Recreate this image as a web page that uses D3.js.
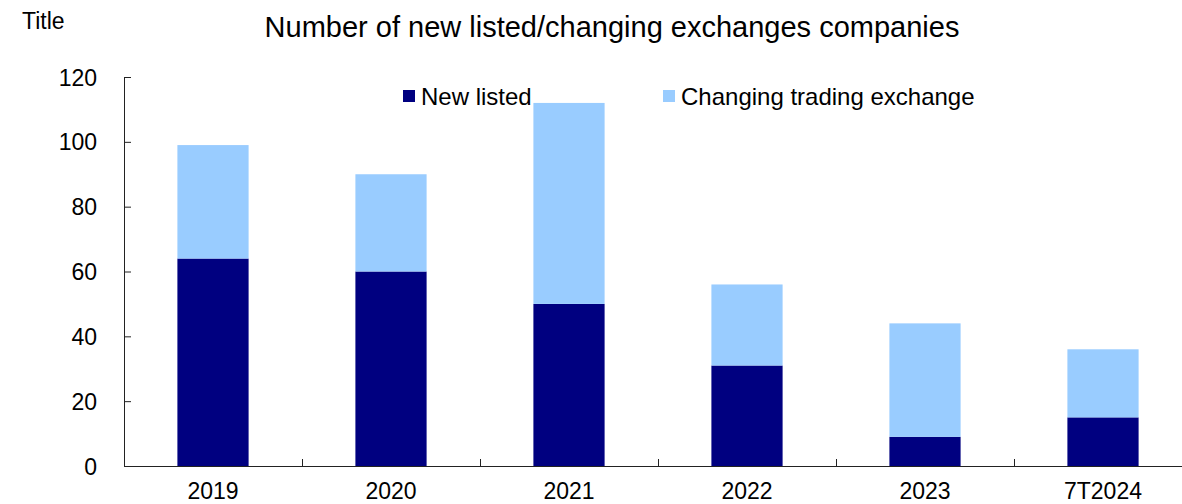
<!DOCTYPE html>
<html>
<head>
<meta charset="utf-8">
<script src="https://cdn.jsdelivr.net/npm/d3@7"></script>
<style>
  html, body { margin: 0; padding: 0; background: #fff; }
  svg { display: block; font-family: "Liberation Sans", Arial, sans-serif; }
</style>
</head>
<body>
<svg id="chart" width="1182" height="504"></svg>
<script>
// Yearly counts of companies
const categories = ["2019", "2020", "2021", "2022", "2023", "7T2024"];
const newListed = [64, 60, 50, 31, 9, 15];
const changingExchange = [35, 30, 62, 25, 35, 21];
const yTicks = [0, 20, 40, 60, 80, 100, 120];
const seriesNames = ["New listed", "Changing trading exchange"];
const seriesColors = ["#000080", "#99CCFF"];

const width = 1182, height = 504;
const margin = { left: 124, top: 77, bottom: 466 };
const svg = d3.select("#chart");

const x = d3.scaleBand()
  .domain(categories)
  .range([margin.left, margin.left + 178 * categories.length])
  .paddingInner(0.6)
  .paddingOuter(0.3);

const y = d3.scaleLinear().domain([0, 120]).range([margin.bottom, margin.top]);

const rows = categories.map((c, i) => ({ cat: c, newListed: newListed[i], changing: changingExchange[i] }));
const stacked = d3.stack().keys(["newListed", "changing"])(rows);

// Stacked bars
svg.append("g").selectAll("g")
  .data(stacked)
  .join("g")
  .attr("fill", (d, i) => seriesColors[i])
  .selectAll("rect")
  .data(d => d)
  .join("rect")
  .attr("x", d => x(d.data.cat))
  .attr("width", x.bandwidth())
  .attr("y", d => y(d[1]))
  .attr("height", d => y(d[0]) - y(d[1]));

// Y axis: ticks pointing into the plot
const yAxis = svg.append("g")
  .attr("transform", `translate(${margin.left},0)`)
  .call(d3.axisRight(y).tickValues(yTicks).tickSize(7).tickFormat(d3.format("d")));
yAxis.select(".domain").attr("d", `M0.5,${margin.top}V${margin.bottom}`).attr("stroke", "#222");
yAxis.selectAll(".tick line").attr("stroke", "#222");
yAxis.selectAll(".tick text")
  .attr("x", -27)
  .attr("text-anchor", "end")
  .attr("dy", "0.35em")
  .attr("fill", "#000")
  .style("font-size", "23px");

// X axis: baseline, separator ticks between categories, labels under bars
const xAxisG = svg.append("g");
const step = x.step();
const x0 = margin.left;
const x1 = margin.left + step * categories.length;
xAxisG.append("line")
  .attr("x1", x0).attr("x2", x1)
  .attr("y1", margin.bottom + 0.5).attr("y2", margin.bottom + 0.5)
  .attr("stroke", "#222");
xAxisG.selectAll("line.sep")
  .data(d3.range(1, categories.length))
  .join("line")
  .attr("class", "sep")
  .attr("x1", i => x0 + i * step + 0.5).attr("x2", i => x0 + i * step + 0.5)
  .attr("y1", margin.bottom).attr("y2", margin.bottom - 7)
  .attr("stroke", "#222");
xAxisG.selectAll("text")
  .data(categories)
  .join("text")
  .attr("x", d => x(d) + x.bandwidth() / 2)
  .attr("y", 499)
  .attr("text-anchor", "middle")
  .style("font-size", "23px")
  .text(d => d);

// Titles
svg.append("text")
  .attr("x", 22).attr("y", 29)
  .style("font-size", "23px")
  .text("Title");
svg.append("text")
  .attr("x", 612).attr("y", 37)
  .attr("text-anchor", "middle")
  .style("font-size", "29px")
  .text("Number of new listed/changing exchanges companies");

// Legend
const legendPos = [{ sx: 403, tx: 421 }, { sx: 663, tx: 681 }];
const legend = svg.append("g");
seriesNames.forEach((name, i) => {
  legend.append("rect")
    .attr("x", legendPos[i].sx).attr("y", 90)
    .attr("width", 12).attr("height", 12)
    .attr("fill", seriesColors[i]);
  legend.append("text")
    .attr("x", legendPos[i].tx).attr("y", 105)
    .style("font-size", "24px")
    .text(name);
});
</script>
</body>
</html>
